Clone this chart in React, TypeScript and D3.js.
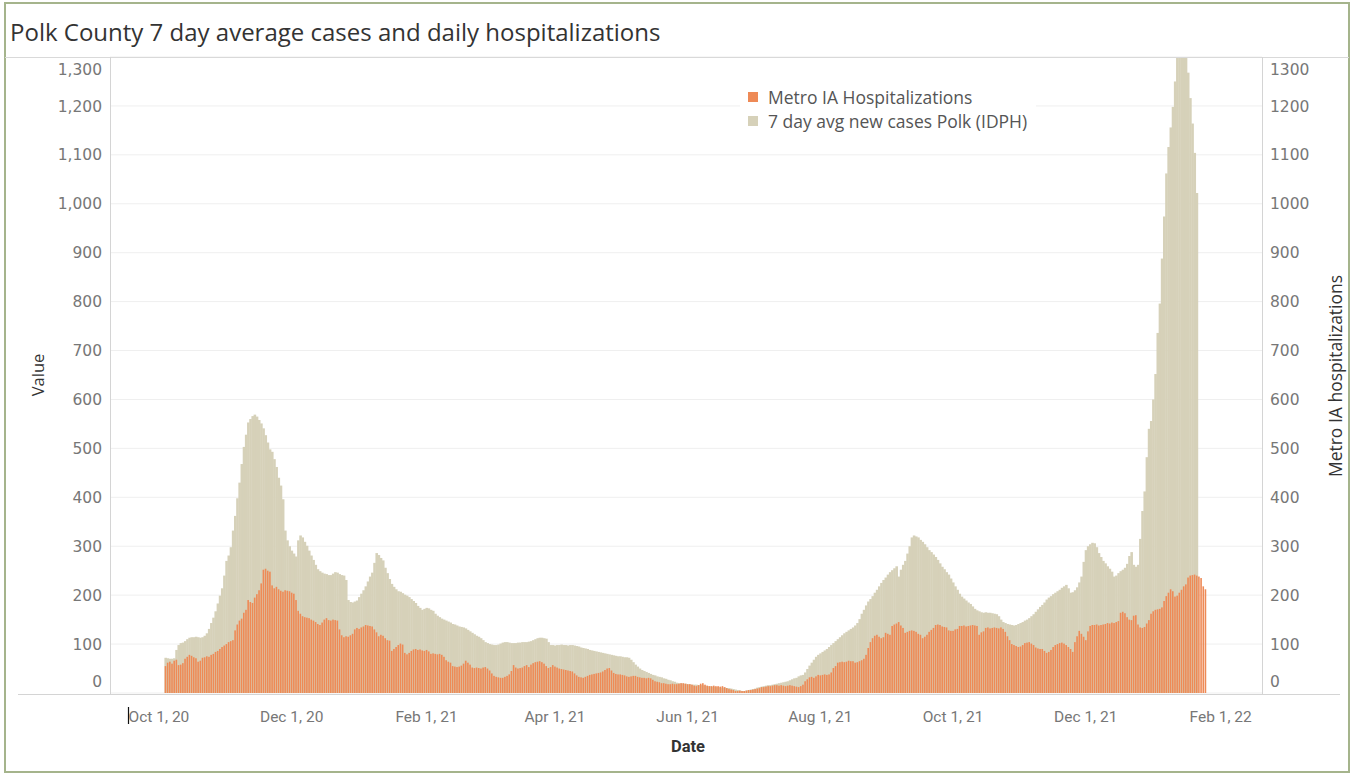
import React from 'react';
import * as d3 from 'd3';

// first bar of both series is Oct 4, 2020, one value per day
const seriesStart = new Date(2020, 9, 4);

// 7 day avg new cases Polk (IDPH)
const cases = [
  72, 71, 70, 70, 71, 88, 98, 102, 103, 106,
  110, 113, 114, 114, 115, 114, 113, 114, 117, 122,
  131, 143, 154, 167, 183, 199, 214, 240, 270, 281,
  298, 332, 362, 398, 430, 468, 503, 528, 553, 560,
  566, 569, 565, 558, 551, 541, 527, 512, 498, 493,
  478, 462, 440, 424, 396, 332, 312, 300, 291, 285,
  279, 312, 322, 318, 309, 301, 291, 281, 272, 262,
  253, 249, 246, 244, 243, 241, 241, 244, 247, 246,
  243, 241, 240, 231, 190, 186, 185, 187, 189, 196,
  203, 210, 218, 228, 238, 246, 266, 286, 282, 276,
  271, 256, 245, 233, 223, 217, 212, 208, 207, 204,
  201, 199, 196, 192, 188, 184, 178, 174, 170, 172,
  174, 173, 170, 168, 162, 158, 155, 152, 150, 148,
  146, 144, 141, 140, 138, 136, 135, 134, 132, 129,
  126, 123, 120, 117, 115, 112, 108, 104, 102, 100,
  99, 98, 98, 99, 101, 103, 104, 104, 103, 102,
  102, 102, 103, 103, 104, 104, 104, 105, 106, 108,
  110, 112, 113, 113, 112, 111, 104, 98, 98, 97,
  98, 98, 99, 98, 98, 97, 98, 98, 97, 96,
  95, 93, 92, 91, 90, 88, 87, 86, 85, 84,
  83, 82, 81, 80, 79, 78, 77, 76, 75, 75,
  74, 73, 73, 72, 68, 63, 58, 54, 50, 47,
  45, 43, 41, 39, 37, 36, 34, 33, 32, 30,
  29, 27, 26, 24, 23, 21, 20, 20, 19, 19,
  18, 18, 17, 17, 17, 16, 16, 16, 15, 14,
  14, 13, 13, 12, 12, 11, 11, 11, 10, 10,
  9, 8, 7, 6, 5, 4, 4, 5, 6, 7,
  8, 9, 11, 12, 13, 14, 15, 16, 16, 17,
  18, 19, 20, 21, 22, 23, 24, 26, 28, 30,
  31, 34, 36, 37, 42, 49, 56, 62, 68, 74,
  78, 81, 84, 87, 90, 94, 98, 102, 106, 110,
  114, 118, 122, 125, 128, 131, 134, 138, 143, 151,
  162, 170, 179, 187, 192, 198, 205, 211, 218, 225,
  231, 236, 242, 247, 251, 255, 259, 238, 252, 262,
  270, 285, 300, 318, 322, 320, 318, 313, 309, 304,
  298, 292, 288, 283, 278, 272, 265, 258, 253, 247,
  242, 234, 226, 218, 211, 203, 197, 193, 189, 185,
  182, 177, 172, 169, 167, 165, 164, 165, 164, 164,
  163, 162, 161, 157, 150, 145, 143, 141, 140, 139,
  138, 139, 141, 143, 145, 148, 150, 153, 157, 161,
  166, 171, 176, 180, 185, 191, 195, 198, 202, 205,
  208, 211, 215, 218, 221, 214, 205, 206, 210, 216,
  226, 238, 268, 292, 300, 304, 307, 306, 298, 286,
  278, 270, 265, 259, 254, 248, 238, 240, 245, 249,
  252, 256, 264, 280, 288, 262, 258, 262, 315, 372,
  412, 482, 540, 556, 600, 652, 736, 796, 888, 974,
  1062, 1116, 1156, 1198, 1250, 1302, 1330, 1348, 1338, 1300,
  1268, 1216, 1164, 1104, 1022,
];

// Metro IA Hospitalizations
const hospitalizations = [
  55, 62, 64, 60, 66, 68, 57, 58, 61, 70,
  74, 78, 76, 73, 71, 64, 66, 72, 73, 75,
  74, 78, 80, 84, 86, 90, 94, 97, 100, 104,
  106, 108, 128, 140, 148, 152, 164, 170, 190, 186,
  184, 195, 202, 210, 224, 252, 254, 250, 248, 220,
  214, 217, 212, 209, 207, 210, 209, 208, 205, 203,
  190, 168, 162, 157, 155, 154, 153, 150, 148, 145,
  141, 139, 144, 150, 153, 149, 148, 150, 149, 148,
  130, 118, 114, 116, 115, 118, 121, 130, 133, 131,
  134, 136, 139, 138, 137, 136, 130, 124, 116, 119,
  117, 112, 108, 107, 86, 90, 94, 98, 101, 99,
  82, 79, 82, 86, 89, 90, 88, 89, 87, 86,
  88, 85, 80, 81, 80, 79, 80, 78, 74, 67,
  64, 62, 55, 54, 53, 54, 56, 60, 66, 62,
  58, 52, 51, 52, 51, 50, 52, 53, 50, 46,
  40, 35, 33, 32, 31, 31, 33, 35, 38, 45,
  57, 52, 50, 51, 52, 55, 57, 53, 58, 61,
  63, 64, 65, 63, 60, 55, 51, 53, 57, 54,
  52, 50, 49, 48, 47, 46, 45, 44, 40, 36,
  33, 32, 31, 33, 35, 37, 38, 39, 40, 41,
  42, 44, 47, 50, 51, 46, 41, 39, 38, 38,
  37, 36, 34, 33, 34, 35, 35, 33, 32, 31,
  31, 30, 31, 30, 27, 24, 23, 22, 20, 20,
  19, 18, 18, 19, 18, 18, 19, 20, 20, 19,
  18, 18, 17, 15, 14, 16, 19, 20, 17, 15,
  14, 14, 15, 14, 14, 13, 14, 12, 10, 8,
  7, 6, 4, 4, 5, 4, 4, 5, 6, 6,
  7, 8, 9, 10, 12, 12, 13, 14, 14, 15,
  16, 16, 15, 16, 15, 14, 15, 16, 15, 14,
  13, 12, 14, 17, 24, 28, 32, 33, 31, 34,
  37, 36, 37, 38, 37, 38, 42, 51, 55, 62,
  63, 64, 63, 64, 66, 65, 65, 62, 63, 65,
  67, 70, 78, 92, 104, 112, 117, 119, 115, 112,
  114, 123, 121, 119, 137, 140, 142, 145, 138, 133,
  123, 125, 127, 128, 127, 125, 121, 119, 112, 115,
  119, 125, 129, 133, 139, 140, 139, 136, 135, 134,
  128, 127, 127, 130, 131, 137, 137, 138, 136, 137,
  138, 139, 138, 137, 119, 124, 126, 133, 134, 132,
  133, 134, 133, 132, 134, 131, 125, 116, 108, 100,
  98, 96, 94, 95, 98, 102, 103, 104, 101, 98,
  93, 91, 90, 90, 86, 82, 84, 88, 94, 98,
  100, 102, 103, 101, 98, 94, 90, 84, 104, 116,
  127, 121, 115, 108, 126, 137, 139, 139, 140, 138,
  139, 140, 141, 143, 142, 144, 143, 145, 147, 164,
  166, 163, 155, 150, 149, 158, 159, 140, 134, 133,
  135, 142, 149, 162, 167, 170, 171, 172, 175, 188,
  198, 205, 212, 208, 197, 199, 205, 211, 218, 222,
  236, 240, 241, 242, 240, 238, 235, 218, 212,
];

const yTicks = [0, 100, 200, 300, 400, 500, 600, 700, 800, 900, 1000, 1100, 1200, 1300];
const dateTicks = [
  new Date(2020, 9, 1), new Date(2020, 11, 1), new Date(2021, 1, 1),
  new Date(2021, 3, 1), new Date(2021, 5, 1), new Date(2021, 7, 1),
  new Date(2021, 9, 1), new Date(2021, 11, 1), new Date(2022, 1, 1),
];
const seriesNames = ['Metro IA Hospitalizations', '7 day avg new cases Polk (IDPH)'];

const W = 1352;
const H = 775;
const pane = { left: 110, right: 1262, top: 57, bottom: 693 };

const TAN = '#d6d1b9';
const ORANGE = '#ee8a56';

const App: React.FC = () => {
  const x = d3.scaleTime()
    .domain([new Date(2020, 8, 8, 12), new Date(2022, 1, 20)])
    .range([pane.left, pane.right]);
  const y = d3.scaleLinear().domain([0, 1300]).range([pane.bottom, pane.top]);
  const step = x(new Date(2021, 0, 2)) - x(new Date(2021, 0, 1));
  const fmtLeft = d3.format(',');
  const fmtDate = d3.timeFormat('%b %-d, %y');

  const day = (i: number) => d3.timeDay.offset(seriesStart, i);
  const clampV = (v: number) => Math.min(v, 1300);

  // Tableau nudges the end labels inside the pane
  const tickY = (t: number) => {
    if (t === 1300) return y(t) + 12;
    if (t === 0) return y(t) - 12;
    return y(t);
  };

  return (
    <svg width={W} height={H} style={{ position: 'absolute', left: 0, top: 0, background: '#fff' }}>
      <defs>
        <clipPath id="pane">
          <rect x={pane.left} y={pane.top} width={pane.right - pane.left} height={pane.bottom - pane.top} />
        </clipPath>
      </defs>

      {/* outer frame */}
      <rect x={5} y={3} width={1344} height={769} fill="#fff" stroke="#a5b48c" strokeWidth={2} />

      <text x={10} y={41} fontFamily="'Open Sans', sans-serif" fontSize={24} fill="#333">
        Polk County 7 day average cases and daily hospitalizations
      </text>

      {/* gridlines */}
      {yTicks.map(t => (
        <line key={t} x1={pane.left} x2={pane.right} y1={y(t)} y2={y(t)} stroke="#efefef" strokeWidth={1} />
      ))}

      <g clipPath="url(#pane)">
        {cases.map((v, i) => {
          const cx = x(day(i));
          return (
            <rect key={'c' + i} x={cx - step / 2} width={step + 0.4} y={y(clampV(v))}
              height={pane.bottom - y(clampV(v))} fill={TAN} />
          );
        })}
        {hospitalizations.map((v, i) => {
          const cx = x(day(i));
          return (
            <rect key={'h' + i} x={cx - 0.8} width={1.6} y={y(v)}
              height={pane.bottom - y(v)} fill={ORANGE} />
          );
        })}
      </g>

      {/* axis lines */}
      <line x1={5} x2={1349} y1={57.5} y2={57.5} stroke="#d9d9d9" />
      <line x1={pane.left + 0.5} x2={pane.left + 0.5} y1={57} y2={694} stroke="#d4d4d4" />
      <line x1={pane.right + 0.5} x2={pane.right + 0.5} y1={57} y2={694} stroke="#d4d4d4" />
      <line x1={18} x2={1340} y1={694.5} y2={694.5} stroke="#d4d4d4" />

      {/* left axis */}
      {yTicks.map(t => (
        <text key={'l' + t} x={102} y={tickY(t)} dy="0.36em" textAnchor="end"
          fontFamily="'DejaVu Sans', sans-serif" fontSize={15.5} fill="#777">
          {fmtLeft(t)}
        </text>
      ))}
      <text transform="translate(44,375) rotate(-90)" textAnchor="middle"
        fontFamily="'Open Sans', sans-serif" fontSize={16.5} fill="#333">Value</text>

      {/* right axis */}
      {yTicks.map(t => (
        <text key={'r' + t} x={1270} y={tickY(t)} dy="0.36em"
          fontFamily="'DejaVu Sans', sans-serif" fontSize={15.5} fill="#777">
          {t}
        </text>
      ))}
      <text transform="translate(1342,376) rotate(-90)" textAnchor="middle"
        fontFamily="'Open Sans', sans-serif" fontSize={17.5} fill="#333">Metro IA hospitalizations</text>

      {/* date axis */}
      {dateTicks.map(d => (
        <text key={d.getTime()} x={x(d)} y={722} textAnchor="middle"
          fontFamily="Roboto, sans-serif" fontSize={15.5} fill="#777">
          {fmtDate(d)}
        </text>
      ))}
      <line x1={128.5} x2={128.5} y1={707} y2={724} stroke="#111" strokeWidth={1.2} />
      <text x={688} y={752} textAnchor="middle" fontFamily="Roboto, sans-serif" fontWeight="bold"
        fontSize={16.5} fill="#333">Date</text>

      {/* legend */}
      <rect x={740} y={82} width={296} height={52} fill="#fff" />
      <rect x={748} y={92} width={10} height={10} fill={ORANGE} />
      <rect x={748} y={116} width={10} height={10} fill={TAN} />
      {seriesNames.map((s, i) => (
        <text key={s} x={768} y={104 + i * 24} fontFamily="'Open Sans', sans-serif" fontSize={17.5} fill="#555">
          {s}
        </text>
      ))}
    </svg>
  );
};

export default App;
